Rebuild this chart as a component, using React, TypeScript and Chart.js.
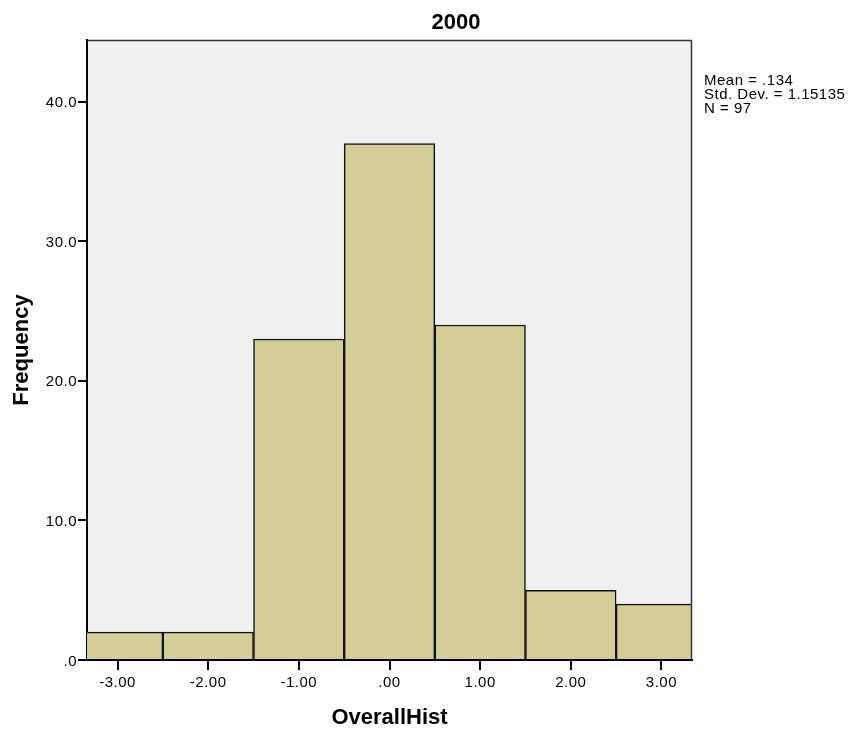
import { useEffect, useRef } from "react";
import { Chart, registerables } from "chart.js";

Chart.register(...registerables);

const binCenters = [-3, -2, -1, 0, 1, 2, 3];
const frequencies = [2, 2, 23, 37, 24, 5, 4];
const xTickValues = [-3, -2, -1, 0, 1, 2, 3];
const yTickValues = [0, 10, 20, 30, 40];
const chartTitle = "2000";
const xTitle = "OverallHist";
const yTitle = "Frequency";
const statsLines = ["Mean = .134", "Std. Dev. = 1.15135", "N = 97"];
const xRange = [-3.337, 3.337];
const yRange = [0, 44.42];

const FONT = '"Liberation Sans", Arial, Helvetica, sans-serif';

const fmtX = (v: number) => (v === 0 ? ".00" : v.toFixed(2));
const fmtY = (v: number) => (v === 0 ? ".0" : v.toFixed(1));

const decor = {
  id: "decor",
  beforeDraw(chart: any) {
    const { ctx, chartArea: a, width, height } = chart;
    ctx.save();
    ctx.fillStyle = "#ffffff";
    ctx.fillRect(0, 0, width, height);
    ctx.fillStyle = "#f0f0f0";
    ctx.fillRect(a.left, a.top, a.right - a.left, a.bottom - a.top);
    ctx.restore();
    ctx.letterSpacing = "0.5px";
  },
  afterDraw(chart: any) {
    const { ctx, chartArea: a } = chart;
    ctx.save();
    // top and right frame
    ctx.strokeStyle = "#333333";
    ctx.lineWidth = 1.5;
    ctx.beginPath();
    ctx.moveTo(a.left, a.top + 0.5);
    ctx.lineTo(a.right, a.top + 0.5);
    ctx.moveTo(a.right - 0.5, a.top);
    ctx.lineTo(a.right - 0.5, a.bottom);
    ctx.stroke();

    // stats text
    ctx.letterSpacing = "0.5px";
    ctx.fillStyle = "#000";
    ctx.font = `15px ${FONT}`;
    ctx.textAlign = "left";
    ctx.textBaseline = "alphabetic";
    statsLines.forEach((t, i) => ctx.fillText(t, 704, 85 + i * 14));

    // titles
    ctx.letterSpacing = "0px";
    ctx.font = `bold 22px ${FONT}`;
    ctx.textAlign = "center";
    ctx.fillText(chartTitle, 456, 29);
    ctx.fillText(xTitle, (a.left + a.right) / 2, 724);
    ctx.translate(28, (a.top + a.bottom) / 2);
    ctx.rotate(-Math.PI / 2);
    ctx.fillText(yTitle, 0, 0);
    ctx.restore();
  },
};

export default function App() {
  const ref = useRef<HTMLCanvasElement | null>(null);
  useEffect(() => {
    document.body.style.margin = "0";
    const canvas = ref.current;
    if (!canvas) return;
    const tickFont = { family: FONT, size: 15 };
    const chart = new Chart(canvas, {
      type: "bar",
      data: {
        datasets: [
          {
            data: binCenters.map((c, i) => ({ x: c, y: frequencies[i] })),
            backgroundColor: "#d3ce98",
            borderColor: "#111111",
            borderWidth: 1.5,
            barPercentage: 1,
            categoryPercentage: 1,
            clip: 0,
          } as any,
        ],
      },
      options: {
        animation: false,
        responsive: false,
        devicePixelRatio: 1,
        layout: { padding: { top: 40, right: 157, bottom: 0, left: 0 } },
        plugins: { legend: { display: false }, tooltip: { enabled: false }, title: { display: false } },
        scales: {
          x: {
            type: "linear",
            min: xRange[0],
            max: xRange[1],
            offset: false,
            z: 1,
            afterBuildTicks: (s: any) => {
              s.ticks = xTickValues.map((v) => ({ value: v }));
            },
            afterFit: (s: any) => {
              s.height = 69;
            },
            grid: {
              display: true,
              drawOnChartArea: false,
              drawTicks: true,
              tickLength: 10,
              color: "#000",
              lineWidth: 2,
              offset: false,
            },
            border: { display: true, color: "#000", width: 2 },
            ticks: {
              font: tickFont,
              color: "#000",
              padding: 4,
              maxRotation: 0,
              autoSkip: false,
              callback: (v: any) => fmtX(Number(v)),
            },
          },
          y: {
            type: "linear",
            min: yRange[0],
            max: yRange[1],
            z: 1,
            afterBuildTicks: (s: any) => {
              s.ticks = yTickValues.map((v) => ({ value: v }));
            },
            afterFit: (s: any) => {
              s.width = 87;
            },
            grid: {
              display: true,
              drawOnChartArea: false,
              drawTicks: true,
              tickLength: 9,
              color: "#000",
              lineWidth: 2,
            },
            border: { display: true, color: "#000", width: 2 },
            ticks: {
              font: tickFont,
              color: "#000",
              padding: 1,
              labelOffset: 1.5,
              autoSkip: false,
              callback: (v: any) => fmtY(Number(v)),
            },
          },
        },
      } as any,
      plugins: [decor],
    });
    return () => chart.destroy();
  }, []);
  return (
    <div style={{ width: 849, height: 729 }}>
      <canvas ref={ref} width={849} height={729} style={{ display: "block" }} />
    </div>
  );
}
